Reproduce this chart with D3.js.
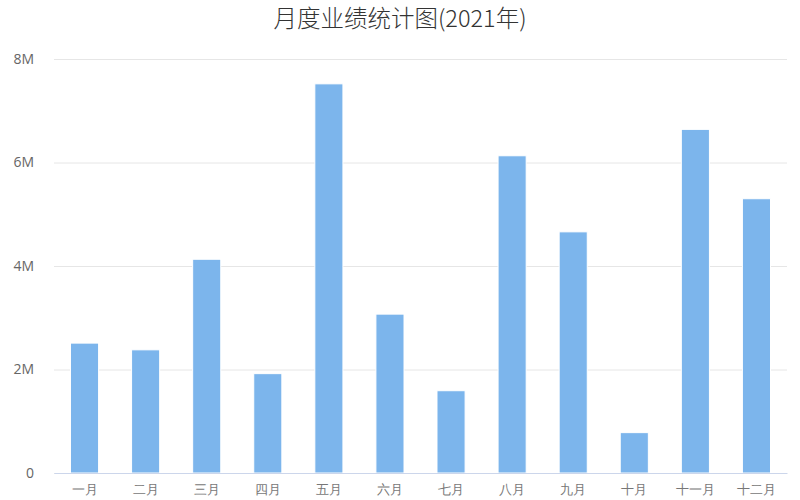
<!DOCTYPE html>
<html><head><meta charset="utf-8">
<script src="https://cdn.jsdelivr.net/npm/d3@7/dist/d3.min.js"></script>
<style>body{margin:0;background:#fff;}svg{display:block;font-family:"Noto Sans CJK SC","Noto Sans",sans-serif;}</style>
</head><body>
<svg id="c" width="800" height="500"></svg>
<script>
const title = "月度业绩统计图(2021年)";
const months = ["一月","二月","三月","四月","五月","六月","七月","八月","九月","十月","十一月","十二月"];
const sales = [2510000, 2380000, 4130000, 1920000, 7520000, 3070000, 1590000, 6130000, 4660000, 780000, 6640000, 5300000];
const yTicks = [0, 2000000, 4000000, 6000000, 8000000];
const yTickLabels = ["0","2M","4M","6M","8M"];

const svg = d3.select("#c");
const m = {l:54, r:13, t:59, b:27};
const W = 800, H = 500;
const x = d3.scaleBand().domain(months).range([m.l, W - m.r]).paddingInner(0.54).paddingOuter(0.27);
const y = d3.scaleLinear().domain([0, 8000000]).range([H - m.b, m.t]);

svg.append("text").attr("x", 400).attr("y", 27).attr("text-anchor","middle")
  .attr("font-size", 23.5).attr("fill","#333").attr("font-weight", 300).text(title);

const ga = svg.append("g").attr("transform", `translate(${m.l},0)`)
  .call(d3.axisLeft(y).tickValues(yTicks).tickSize(-(W - m.l - m.r)).tickPadding(20)
  .tickFormat((d,i)=>yTickLabels[i]));
ga.select(".domain").remove();
ga.selectAll(".tick line").attr("stroke","#e6e6e6");
ga.selectAll(".tick text").attr("fill","#666").attr("font-size",14).attr("font-family","'Open Sans','Noto Sans',sans-serif");

svg.append("g").selectAll("rect").data(sales).join("rect")
  .attr("x",(d,i)=>x(months[i])).attr("width",x.bandwidth())
  .attr("y",d=>y(d)).attr("height",d=>y(0)-y(d))
  .attr("fill","#7cb5ec").attr("stroke","#fff").attr("stroke-width",1);

const gx = svg.append("g").attr("transform",`translate(0,${H - m.b})`)
  .call(d3.axisBottom(x).tickSize(0).tickPadding(12));
gx.select(".domain").attr("stroke","#ccd6eb");
gx.selectAll(".tick text").attr("fill","#777").attr("font-size",13).attr("font-weight",300);
</script>
</body></html>
